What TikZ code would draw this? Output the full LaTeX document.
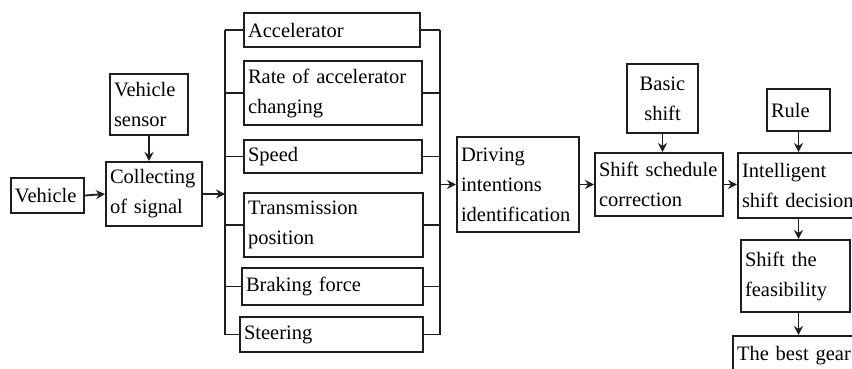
\documentclass[tikz,border=0pt]{standalone}
\usepackage{fontspec}
\setmainfont{Liberation Serif}
\usetikzlibrary{arrows.meta,positioning,calc}
\definecolor{lineblack}{RGB}{30,30,30}
\tikzset{
  basebox/.style={rectangle,draw=lineblack,line width=2pt,inner sep=4pt,align=left,
                  font=\rmfamily\fontsize{20.5}{30}\selectfont},
  arr/.style={-{Stealth[length=9pt,width=9pt]},line width=1.8pt,color=lineblack},
  bus/.style={line width=1.8pt,color=lineblack}
}

\begin{document}
\begin{tikzpicture}[x=1pt,y=-1pt]
  \useasboundingbox (0,0) rectangle (852,369);

  \node[basebox,text width=65pt,minimum height=35pt] (veh) at (47.5,195.5) {Vehicle};
  \node[basebox,text width=70pt,minimum height=61pt] (sen) at (149,104.5) {Vehicle\\sensor};
  \node[basebox,text width=88pt,minimum height=64pt] (col) at (154,194) {Collecting\\of signal};

  \node[basebox,text width=168pt,minimum height=34pt] (acc) at (332,30) {Accelerator};
  \node[basebox,text width=170pt,minimum height=64pt] (rat) at (333,93) {Rate of accelerator\\changing};
  \node[basebox,text width=170pt,minimum height=33pt] (spd) at (333,156.5) {Speed};
  \node[basebox,text width=171pt,minimum height=64pt] (trn) at (333.5,225) {Transmission\\position};
  \node[basebox,text width=173pt,minimum height=37pt] (brk) at (332.5,286.5) {Braking force};
  \node[basebox,text width=175pt,minimum height=35pt] (ste) at (331.5,334.5) {Steering};

  \node[basebox,text width=114pt,minimum height=95pt] (drv) at (518,184.5) {Driving\\intentions\\identification};
  \node[basebox,text width=63pt,minimum height=69pt,align=center] (bas) at (662.5,98.5) {Basic\\shift};
  \node[basebox,text width=120pt,minimum height=63pt] (scc) at (659,184.5) {Shift schedule\\correction};

  \node[basebox,text width=55pt,minimum height=42pt] (rul) at (798.5,110) {Rule};
  \node[basebox,text width=122pt,minimum height=65pt] (int) at (803,185.5) {Intelligent\\shift decision};
  \node[basebox,text width=101pt,minimum height=72pt] (fea) at (795.5,276) {Shift the\\feasibility};
  \node[basebox,text width=140pt,minimum height=40pt,anchor=north west] (best) at (732,335) {The best gear};

  \coordinate (lb) at (225,0);
  \coordinate (rb) at (440,0);

  \draw[arr] (veh.east) -- (col.west);
  \draw[arr] (sen.south) -- (sen.south |- col.north);
  \draw[arr] (col.east) -- (col.east -| lb);

  \draw[bus] (acc.west -| lb) -- (ste.west -| lb);
  \draw[bus] (acc.east -| rb) -- (ste.east -| rb);
  \foreach \n in {acc,rat,spd,trn,brk,ste} {
    \draw[bus] (\n.west -| lb) -- (\n.west);
    \draw[bus] (\n.east) -- (\n.east -| rb);
  }

  \draw[arr] (drv.west -| rb) -- (drv.west);
  \draw[arr] (drv.east) -- (scc.west);
  \draw[arr] (bas.south) -- (bas.south |- scc.north);
  \draw[arr] (scc.east) -- (scc.east -| int.west);
  \draw[arr] (rul.south) -- (rul.south |- int.north);
  \draw[arr] (rul.south |- int.south) -- (rul.south |- fea.north);
  \draw[arr] (rul.south |- fea.south) -- (rul.south |- best.north);
\end{tikzpicture}
\end{document}
